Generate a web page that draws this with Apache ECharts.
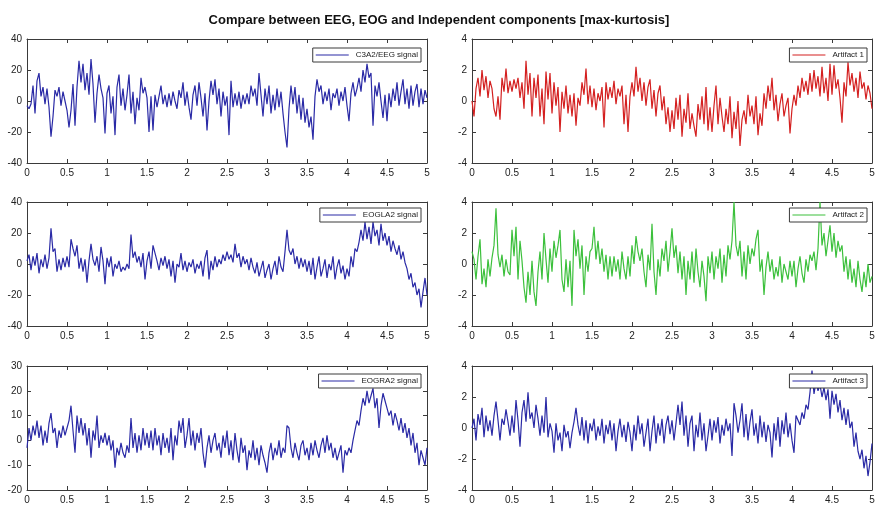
<!DOCTYPE html>
<html>
<head>
<meta charset="utf-8">
<script src="https://cdn.jsdelivr.net/npm/echarts@6/dist/echarts.min.js"></script>
<style>
  html, body { margin: 0; padding: 0; background: #fff; }
  #chart { width: 878px; height: 508px; }
</style>
</head>
<body>
<div id="chart"></div>
<script>
// Recording window (seconds) and the time tick step shared by all panels
const timeRange = [0, 5];
const timeTickStep = 0.5;

// Signal names
const seriesNames = ['C3A2/EEG signal', 'Artifact 1', 'EOGLA2 signal', 'Artifact 2', 'EOGRA2 signal', 'Artifact 3'];

// Y ranges per panel: [min, max, step]
const yRanges = [[-40, 40, 20], [-4, 4, 2], [-40, 40, 20], [-4, 4, 2], [-20, 30, 10], [-4, 4, 2]];

// Samples, evenly spaced over the 5 s window
const eegC3A2 = [
  -3, -5, -2, 10, -8, 13, 18, 3, 9, -2,
  8, -4, -23, -10, 7, 3, 9, -3, 6, 0,
  -6, -17, -6, 11, -16, 9, 26, 12, 24, 7,
  18, 4, 27, 11, -14, 5, 17, 8, 2, -21,
  5, 10, -8, 3, -22, 9, 17, -3, 8, -6,
  4, 17, -8, 6, -15, 2, -6, 15, 5, 9,
  2, -20, 3, -19, 4, -4, 3, 10, -2, 4,
  -4, 5, -3, 6, 0, -5, 7, 2, 12, -3,
  6, -4, -12, 4, 10, -3, 12, 2, -10, 5,
  -19, 0, 13, 4, 14, -2, 8, -10, 6, -3,
  3, -22, 13, -4, 5, -3, 6, -5, 4, -2,
  5, -2, 10, 3, 8, -3, 18, 4, -10, 8,
  -2, 10, -8, 4, -6, 8, -4, 6, -8, -20,
  -30, -5, 10, -2, 9, -8, 4, -12, 2, -14,
  -5, -17, -10, -25, 3, 14, 6, 10, -2, 6,
  0, 8, -6, 5, 2, 8, -3, 6, 0, 9,
  -3, -13, 5, 12, 3, 8, 15, 6, 20, 12,
  24, 15, 18, -16, 10, 3, 12, 0, -11, 4,
  -13, 5, -4, 8, 0, 12, -3, 6, 14, -2,
  8, -5, 10, -3, 6, 11, -4, 8, -2, 7, 2
];

const artifact1 = [
  0, -1, 0.8, 1.5, 0.3, 2, 0.7, 1.6, 0.2, 1.3,
  0.8, -0.5, -1, 0.3, -1.2, 1.5, 0.6, 2.1, 0.5, 1.3,
  0.6, 1.4, 0.8, 1.5, 0.2, 1.2, -0.5, 2.6, 0.4, 1.8,
  -1, 1.5, 0.2, 1.7, -1, 0.8, -1.5, 1.9, 0.1, 1.8,
  -0.8, 1.2, -0.3, 0.9, -2, 0.6, -0.5, 1, -0.8, 0.4,
  -1, 0.5, -1.6, 0.2, -0.3, 1.2, 0.4, 2.1, -0.2, 1,
  -0.4, 0.8, -0.6, 0.5, 0, 0.9, -1.7, 1.2, 0.1, 0.9,
  0.2, 1.3, -0.2, 0.8, 0.3, 1, -1.5, 0.4, -2, 0.3,
  1.2, 0.3, 2.2, 0.6, 1.5, 0, 1.2, -0.3, 0.9, 1.4,
  -0.5, 0.7, -1, 0.5, 1, -0.6, 0.3, -1.5, -0.4, -2,
  -0.6, -1.8, 0.2, -1.2, 0.4, -2.3, -0.5, -1.4, 0.5, -1.8,
  -0.8, -1.6, -2.3, -0.2, -1.2, 0.3, -1.5, 0.9, -1.9, -0.4,
  -2, -0.3, 1, -1.5, 0.2, -1, -2, -0.5, -1.5, 0.3,
  -2.4, -0.7, -1.8, 0, -2.9, -1.2, -0.6, -1.5, 0.4, -1,
  -0.3, -1.5, 0.3, -2.2, -0.8, -1.6, 0.5, -0.5, 1, 0,
  1.5, -0.6, 0.4, -1.3, -0.2, 0.5, -1, -0.3, 0.2, -2.1,
  -0.5, 0.4, -0.3, 1, 0.2, 1.5, 0.6, 1.3, 0.4, 1.8,
  0.6, 2, 0.8, 1.6, 0.3, 2.2, 0.5, 1.5, 0, 2.4,
  0.4, 2.3, 0.8, 1.4, 0.2, -1.4, 1.2, 0.3, 2.5, 1,
  1.8, 0.6, 1.5, 0.2, 1.9, 0.8, 1.2, 0.1, 1, 0.5, -0.5
];

const eogLA2 = [
  2, 6, -4, 5, -1, 7, -6, 3, -2, 6,
  -3, 4, 23, 8, 10, -5, 3, -4, 4, -2,
  5, -2, 16, 10, 5, 12, -3, 4, -5, 3,
  -12, 2, 13, 3, -1, 5, -5, 11, 2, -13,
  4, -2, 5, -8, 0, -3, 2, -5, -2, -4,
  0, -3, 19, 4, 8, 1, 5, -2, 7, -10,
  2, 8, -3, 12, 7, 2, -4, 4, -1, 5,
  -3, 3, -8, 2, -12, 0, -2, 7, -4, 2,
  -5, 1, -2, 3, -6, 0, -3, 2, -8, 4,
  9, -10, 2, -4, 5, -2, 3, 0, 6, 2,
  8, 3, 6, 1, 13, 4, 7, -2, 5, 0,
  3, -4, 4, -2, -6, 1, -8, -3, 2, -9,
  -4, 0, -10, -3, 2, -7, 5, -2, -5, 8,
  22, 9, 6, 10, 0, 5, -3, 4, -2, 3,
  -5, 2, -7, 4, -10, -2, 5, -8, -3, 3,
  -9, 0, -4, 5, -10, -2, 3, -6, -1, -10,
  -3, -8, 5, -2, 10, 8, 14, 22, 15, 27,
  16, 24, 13, 27, 18, 22, 12, 26, 15, 20,
  12, 18, 8, 15, 10, 6, 12, 3, 8, 1,
  -3, -10, -6, -15, -12, -20, -16, -28, -18, -9, -20
];

const artifact2 = [
  0.8, 0.3, -1, 0.5, 1.6, -1.3, -0.3, -1.5, 0.3, -0.8,
  0.4, 1.2, 3.6, 0.6, -0.2, 0.6, -0.8, 0.3, -0.5, -0.7,
  2.2, 0.5, 2.4, -1, 1.5, 0.2, -1.5, -2.5, -0.5, -2,
  0.2, -1.8, -2.7, -0.5, 0.8, -1, 2, 0.3, -1.2, 1,
  -0.5, 1.5, 0.4, 1.2, 2.2, -1, -1.8, 0.3, -1.5, 0.2,
  -2.7, 2.2, 0.5, 1.6, -0.3, 1.2, -2, 0.5, -0.5, 0.8,
  1, 2.4, 0.3, 1.5, 0, 1, -0.5, 0.6, -1, 0.5,
  -0.8, 0.5, -0.5, 0.3, -1, 0.8, -0.3, -1, 0.5, -0.8,
  1.2, 0, 1.8, 0.8, 0.2, 1, -0.5, -1.5, 0.6, -0.4,
  2.6, -0.5, -2, 0.3, -0.8, 1, 0.2, 1.5, -0.5, 0.8,
  2.3, 0.4, 1.2, -0.6, 0.8, -1, 0.5, -2, 0.2, -1,
  0.8, -1.2, 1, -0.5, -1.5, 0.2, -0.8, -2.4, 0.5, -0.6,
  0.8, -1, 0.5, -0.3, 1, -1.2, 0.6, -0.8, 1.2, 0.3,
  1.5, 4, 1.2, 0.5, 1.5, -0.8, 0.8, -1, 1.2, 0,
  1, 0.5, 1.6, 2.2, -0.5, 0.3, -2, -0.2, 0.8, -0.5,
  0.3, -1, -0.2, -0.8, 0.5, -1.2, 0, -0.5, -1, 0.2,
  -0.8, 0.2, -1.5, -0.3, 0.5, -0.6, -1.2, 0.3, -0.5, 0.6,
  0.2, 0.8, -0.4, 1, 4, 1.2, 2, 0.5, 1.5, 2.5,
  0.8, 2, 0.4, 1.5, 0.8, 1.2, -0.5, 0.5, -1, 0.3,
  -1.2, -0.3, -1.5, 0.2, -1, -1.8, -0.5, -1.5, 0, -1.2, -0.8
];

const eogRA2 = [
  -3, 5, 0, 6, 2, 8, 1, 6, -2, 4,
  -1, 7, 11, 3, 5, -3, 4, 1, 6, 2,
  5, 8, 14, 4, -5, 10, 3, 9, 2, 7,
  -2, 5, -7, 4, 0, 10, -3, 2, -1, 3,
  -2, 2, -4, 0, -11, -3, -6, -1, -5, -7,
  -2, -5, 9, -3, 3, -5, 2, -4, 5, -2,
  3, -3, 4, -4, 5, -2, 2, -6, 3, -3,
  1, -5, 5, -8, 2, -2, 8, 3, 9, -3,
  2, 9, -2, 4, -4, 3, -1, 5, -5, -11,
  -3, 2, -5, 0, 3, -4, -1, -7, 2, -3,
  4, -6, 0, -8, 3, -4, -9, 1, -5, -2,
  -12, -4, -7, 0, -8, -3, -10, -2, -6, -9,
  -13, -5, -1, -8, -3, -6, 0, -7, -3, -5,
  6, 5, -3, -7, -1, -5, -8, -2, 0, -6,
  -3, -8, -1, -6, 0, -4, -7, -2, 1, -5,
  2, -4, -1, -7, -3, -8, -5, -2, -13, -4,
  -6, -3, -5, 0, 4, 8, 6, 12, 17, 14,
  20, 15, 18, 21, 13, 17, 5, 14, 19, 16,
  13, 10, 12, 6, 11, 8, 4, 9, 3, 7,
  1, 5, -2, 3, -5, -1, -10, -4, -7, -10, -3
];

const artifact3 = [
  0, 0.6, -0.8, 0.9, 0.2, 1.3, -0.6, 0.8, -0.2, 0.5,
  -0.5, 0.8, 1.7, 0.5, -0.8, 0.6, 0.2, 1.2, 0.4, -0.5,
  0.8, -0.3, 1.8, 0.5, -1.2, 1, 1.8, 0.4, 2.3, 0.6,
  1, 0, 1.5, 0.6, -0.5, 0.8, -0.3, 2, -0.6, 0.3,
  -0.2, -1.6, 0.3, -0.8, -0.3, -1.5, 0.2, -0.6, -0.2, -1.3,
  -0.3, 0.4, 1.3, 0.2, -0.5, 0.7, -0.8, 0.5, -1, 0.3,
  -0.2, 0.6, -0.8, 0.1, -0.5, 0.6, -1, 0.2, -0.4, 0.5,
  -0.8, 0.3, -1.5, -0.2, 0.6, -0.6, 0.2, -0.9, 0.4, -0.3,
  -1.5, 0.2, -0.8, 0.8, -0.4, 0.3, -1.2, -0.3, 0.6, -1.5,
  -0.2, 0.8, -1, 0.3, -0.5, 0.6, -1, 0.2, 0.8, -0.4,
  0.5, -0.8, 0.3, 1.5, 0.2, 1.7, -0.5, 0.8, -1.2, 0.3,
  0.8, -1.5, 0.2, -0.6, 1, -0.8, 0.3, -1.5, -0.5, 0.6,
  -0.8, 0.5, -0.3, 0.7, -1, 0.2, -0.5, 0.6, -0.2, 0.3,
  -1.8, 1.6, 0.8, -0.3, 0.5, 1.6, -0.6, 0.9, -0.8, 0.4,
  1.2, -0.5, 0.3, -1, 0.8, -0.6, 0.4, -0.9, 0.2, -0.3,
  -1.9, 0.3, -0.8, 0.7, -1.2, 0.5, -0.4, 1, -0.6, 0.3,
  -0.8, -1.6, 0.8, 0.5, 0.2, 1, 0.6, 1.5, 1.2, 2.3,
  3.7, 2.2, 3, 2.4, 2.8, 2, 2.6, 1.8, 2.5, 0.6,
  2.4, 1.5, 2.2, 1, 1.8, 0.5, 1.3, 0.2, 1.2, 0,
  0.4, -1.2, -0.3, -1.5, -2, -1.4, -2.6, -1.8, -3.1, -2.2, -1
];

const seriesValues = [eegC3A2, artifact1, eogLA2, artifact2, eogRA2, artifact3];
const seriesColors = ['#2a2aa6', '#d42020', '#2a2aa6', '#3cc03c', '#2a2aa6', '#2a2aa6'];

// Pair every sample with its time stamp
function toPoints(values) {
  const n = values.length;
  const span = timeRange[1] - timeRange[0];
  return values.map((v, i) => [timeRange[0] + span * i / (n - 1), v]);
}

// Layout of the 3x2 panel arrangement
const colLeft = [27, 472];
const colWidth = 400;
const rowTop = [39, 202, 366];
const rowHeight = 124;
const legendRight = [457, 11];
const legendTop = [48, 208, 374];

const frameColor = '#3a3a3a';
const labelColor = '#222';
const fontFamily = 'Liberation Sans, Arial, sans-serif';

// Thin horizontal bar used as the legend swatch
const legendLineIcon = 'path://M0,0L40,0L40,1.2L0,1.2Z';

const grid = [], xAxis = [], yAxis = [], series = [], legend = [];

seriesNames.forEach((name, k) => {
  const col = k % 2, row = Math.floor(k / 2);
  const [ymin, ymax, ystep] = yRanges[k];
  grid.push({ left: colLeft[col], top: rowTop[row], width: colWidth, height: rowHeight, containLabel: false });

  const lineStyle = { color: frameColor, width: 1 };
  const baseX = {
    gridIndex: k, type: 'value', min: timeRange[0], max: timeRange[1], interval: timeTickStep,
    axisLine: { show: true, onZero: false, lineStyle },
    axisTick: { show: true, inside: true, length: 4, lineStyle },
    splitLine: { show: false }
  };
  xAxis.push(Object.assign({}, baseX, {
    position: 'bottom',
    axisLabel: { show: true, fontSize: 10, color: labelColor, margin: 5, fontFamily,
                 showMinLabel: true, showMaxLabel: true, hideOverlap: false }
  }));
  xAxis.push(Object.assign({}, baseX, { position: 'top', axisLabel: { show: false } }));

  const baseY = {
    gridIndex: k, type: 'value', min: ymin, max: ymax, interval: ystep,
    axisLine: { show: true, onZero: false, lineStyle },
    axisTick: { show: true, inside: true, length: 4, lineStyle },
    splitLine: { show: false }
  };
  yAxis.push(Object.assign({}, baseY, {
    position: 'left',
    axisLabel: { show: true, fontSize: 10, color: labelColor, margin: 5, fontFamily,
                 showMinLabel: true, showMaxLabel: true }
  }));
  yAxis.push(Object.assign({}, baseY, { position: 'right', axisLabel: { show: false } }));

  series.push({
    name: name, type: 'line',
    xAxisIndex: 2 * k, yAxisIndex: 2 * k,
    data: toPoints(seriesValues[k]),
    symbol: 'none', showSymbol: false,
    lineStyle: { color: seriesColors[k], width: 1.2 },
    itemStyle: { color: seriesColors[k] },
    animation: false, silent: true
  });

  legend.push({
    data: [{ name: name, icon: legendLineIcon }],
    right: legendRight[col], top: legendTop[row],
    orient: 'horizontal',
    itemWidth: 33, itemHeight: 1.2, itemGap: 2,
    padding: [3, 3, 3, 3],
    backgroundColor: '#fff',
    borderColor: frameColor, borderWidth: 1, borderRadius: 0,
    selectedMode: false,
    textStyle: { fontSize: 8, color: labelColor, fontFamily, padding: [0, 0, 0, 2] }
  });
});

const chart = echarts.init(document.getElementById('chart'), null, { renderer: 'canvas' });
chart.setOption({
  backgroundColor: '#fff',
  animation: false,
  title: {
    text: 'Compare between EEG, EOG and Independent components [max-kurtosis]',
    left: 'center', top: 9,
    textStyle: { fontSize: 13, fontWeight: 'bold', color: '#111', fontFamily }
  },
  grid, xAxis, yAxis, series, legend
});
</script>
</body>
</html>
